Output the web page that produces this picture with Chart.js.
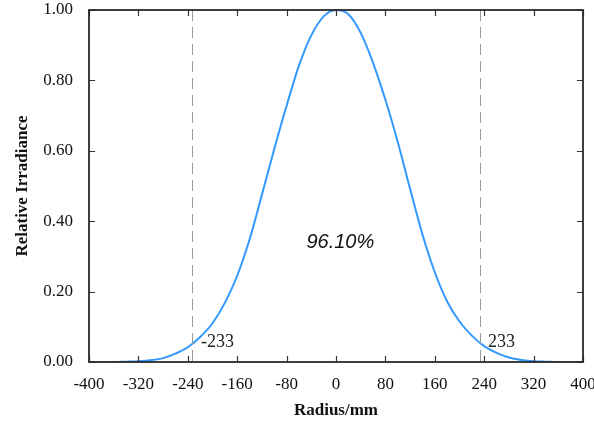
<!DOCTYPE html>
<html>
<head>
<meta charset="utf-8">
<script src="https://cdn.jsdelivr.net/npm/chart.js@4/dist/chart.umd.min.js"></script>
<style>
  html, body { margin: 0; padding: 0; background: #fff; }
  #wrap { width: 594px; height: 421px; }
</style>
</head>
<body>
<div id="wrap"><canvas id="c" width="594" height="421"></canvas></div>
<script>
// Radial irradiance profile, sampled every 20 mm.
var radius = [-400, -380, -360, -340, -320, -300, -280, -260, -240, -220, -200,
  -180, -160, -140, -120, -100, -80, -60, -40, -20, 0,
  20, 40, 60, 80, 100, 120, 140, 160, 180, 200,
  220, 240, 260, 280, 300, 320, 340, 360, 380, 400];
var irradiance = [0, 0, 0, 0.001, 0.002, 0.005, 0.011, 0.024, 0.042, 0.071, 0.110,
  0.168, 0.245, 0.348, 0.475, 0.605, 0.728, 0.842, 0.928, 0.982, 1.000,
  0.988, 0.935, 0.850, 0.745, 0.625, 0.492, 0.362, 0.255, 0.172, 0.115,
  0.075, 0.045, 0.026, 0.013, 0.006, 0.002, 0.001, 0, 0, 0];

var edgeMarks = [-233, 233];
var edgeLabels = ['-233', '233'];
var edgeLabelGap = [9, 8];
var xTicks = [-400, -320, -240, -160, -80, 0, 80, 160, 240, 320, 400];
var yTicks = [0, 0.2, 0.4, 0.6, 0.8, 1.0];
var shareLabel = '96.10%';

var serif = '"Liberation Serif", "Times New Roman", serif';
var sans = '"Liberation Sans", Arial, sans-serif';

// frame, inward ticks on all four sides, edge lines and the annotations
var framePlugin = {
  id: 'frame',
  afterDatasetsDraw: function (chart) {
    var ctx = chart.ctx, a = chart.chartArea;
    var xs = chart.scales.x, ys = chart.scales.y;
    ctx.save();

    // dashed edge markers
    ctx.strokeStyle = '#9a9a9a';
    ctx.lineWidth = 1;
    ctx.setLineDash([11, 6]);
    edgeMarks.forEach(function (v) {
      var px = Math.round(xs.getPixelForValue(v)) + 0.5;
      ctx.beginPath();
      ctx.moveTo(px, a.top);
      ctx.lineTo(px, a.bottom);
      ctx.stroke();
    });
    ctx.setLineDash([]);

    // edge labels
    ctx.fillStyle = '#222';
    ctx.font = '18px ' + serif;
    ctx.textBaseline = 'middle';
    ctx.textAlign = 'left';
    edgeMarks.forEach(function (v, i) {
      ctx.fillText(edgeLabels[i], xs.getPixelForValue(v) + edgeLabelGap[i], ys.getPixelForValue(0.057));
    });

    // enclosed share
    ctx.fillStyle = '#111';
    ctx.font = 'italic 20px ' + sans;
    ctx.textAlign = 'center';
    ctx.fillText(shareLabel, xs.getPixelForValue(7), ys.getPixelForValue(0.34));

    // inward tick marks
    ctx.strokeStyle = '#333';
    ctx.lineWidth = 1.2;
    ctx.beginPath();
    xs.ticks.forEach(function (t) {
      var px = Math.round(xs.getPixelForValue(t.value)) + 0.5;
      ctx.moveTo(px, a.bottom); ctx.lineTo(px, a.bottom - 6);
      ctx.moveTo(px, a.top); ctx.lineTo(px, a.top + 6);
    });
    ys.ticks.forEach(function (t) {
      var py = Math.round(ys.getPixelForValue(t.value)) + 0.5;
      ctx.moveTo(a.left, py); ctx.lineTo(a.left + 6, py);
      ctx.moveTo(a.right, py); ctx.lineTo(a.right - 6, py);
    });
    ctx.stroke();

    // box
    ctx.strokeStyle = '#2a2a2a';
    ctx.lineWidth = 1.8;
    ctx.strokeRect(a.left, a.top, a.right - a.left, a.bottom - a.top);
    ctx.restore();
  }
};

new Chart(document.getElementById('c'), {
  type: 'line',
  data: {
    datasets: [{
      data: radius.map(function (r, i) { return { x: r, y: irradiance[i] }; }),
      borderColor: '#3399ff',
      borderWidth: 2,
      pointRadius: 0,
      fill: false,
      cubicInterpolationMode: 'monotone'
    }]
  },
  options: {
    responsive: false,
    animation: false,
    layout: { padding: { left: 0, right: 11, top: 10, bottom: 0 } },
    plugins: { legend: { display: false }, tooltip: { enabled: false } },
    scales: {
      x: {
        type: 'linear',
        min: -400, max: 400,
        afterBuildTicks: function (s) { s.ticks = xTicks.map(function (v) { return { value: v }; }); },
        afterFit: function (s) { s.height = 59; s.paddingLeft = 0; s.paddingRight = 0; },
        grid: { display: false, drawTicks: false },
        border: { display: false },
        ticks: { padding: 12, color: '#111', font: { family: serif, size: 17 }, maxRotation: 0 },
        title: { display: true, text: 'Radius/mm', color: '#111', padding: { top: 4, bottom: 0 },
          font: { family: serif, size: 17, weight: 'bold' } }
      },
      y: {
        min: 0, max: 1,
        afterBuildTicks: function (s) { s.ticks = yTicks.map(function (v) { return { value: v }; }); },
        afterFit: function (s) { s.width = 89; s.paddingTop = 0; s.paddingBottom = 0; },
        grid: { display: false, drawTicks: false },
        border: { display: false },
        ticks: { padding: 16, color: '#111', font: { family: serif, size: 17 },
          callback: function (v) { return Number(v).toFixed(2); } },
        title: { display: true, text: 'Relative Irradiance', color: '#111', padding: { top: 12, bottom: 0 },
          font: { family: serif, size: 17, weight: 'bold' } }
      }
    }
  },
  plugins: [framePlugin]
});
</script>
</body>
</html>
